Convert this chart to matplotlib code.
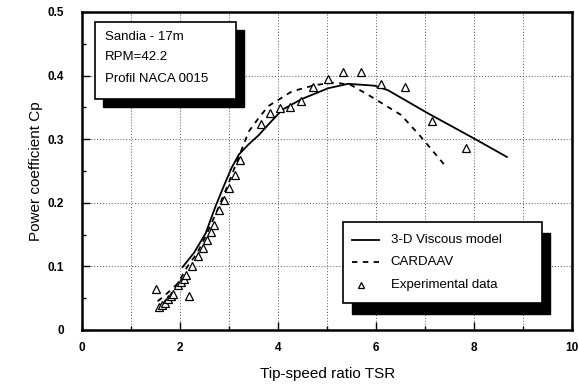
import matplotlib
matplotlib.use("Agg")
import matplotlib.pyplot as plt
from matplotlib.patches import Rectangle
from matplotlib.ticker import MultipleLocator

plt.rcParams['font.family'] = ['Liberation Sans', 'DejaVu Sans']

# 3-D Viscous model (solid)
viscous_tsr = [2.05, 2.28, 2.52, 2.72, 2.90, 3.05, 3.20, 3.40, 3.60, 3.80, 4.08, 4.48,
               5.02, 5.43, 5.97, 6.24, 7.05, 8.00, 8.67]
viscous_cp = [0.099, 0.121, 0.152, 0.194, 0.228, 0.255, 0.276, 0.292, 0.306, 0.323, 0.346,
              0.363, 0.380, 0.387, 0.384, 0.377, 0.341, 0.301, 0.272]

# CARDAAV (dashed)
cardaav_tsr = [1.54, 1.74, 1.95, 2.15, 2.35, 2.55, 2.79, 2.99, 3.20, 3.40, 3.60, 3.80,
               4.28, 4.75, 5.16, 5.49, 5.83, 6.51, 6.91, 7.39]
cardaav_cp = [0.045, 0.058, 0.073, 0.100, 0.121, 0.152, 0.194, 0.231, 0.273, 0.312, 0.333,
              0.352, 0.375, 0.385, 0.389, 0.385, 0.370, 0.338, 0.304, 0.260]

# Experimental data (triangles)
exp_tsr = [1.51, 1.57, 1.62, 1.68, 1.75, 1.81, 1.86, 1.95, 2.01, 2.08, 2.12, 2.17, 2.25,
           2.37, 2.46, 2.54, 2.63, 2.70, 2.79, 2.89, 2.99, 3.12, 3.23, 3.66, 3.84, 4.03,
           4.24, 4.47, 4.72, 5.01, 5.32, 5.70, 6.10, 6.59, 7.15, 7.84]
exp_cp = [0.064, 0.036, 0.040, 0.043, 0.048, 0.053, 0.057, 0.070, 0.076, 0.080, 0.086,
          0.053, 0.100, 0.117, 0.129, 0.141, 0.154, 0.165, 0.188, 0.204, 0.223, 0.244,
          0.267, 0.324, 0.341, 0.349, 0.351, 0.360, 0.382, 0.395, 0.406, 0.406, 0.387,
          0.382, 0.329, 0.286]

info_lines = ["Sandia - 17m", "RPM=42.2", "Profil NACA 0015"]
legend_labels = ["3-D Viscous model", "CARDAAV", "Experimental data"]

fig = plt.figure(figsize=(5.79, 3.85), dpi=100)
ax = fig.add_axes([0.142, 0.143, 0.846, 0.826])
ax.set_xlim(0, 10)
ax.set_ylim(0, 0.5)

ax.plot(viscous_tsr, viscous_cp, color='black', lw=1.3, zorder=3)
ax.plot(cardaav_tsr, cardaav_cp, color='black', lw=1.3, ls=(0, (3, 3)), zorder=3)
ax.plot(exp_tsr, exp_cp, ls='none', marker='^', markersize=6, mfc='white', mec='black',
        mew=0.9, zorder=4)

ax.xaxis.set_major_locator(MultipleLocator(2))
ax.xaxis.set_minor_locator(MultipleLocator(1))
ax.yaxis.set_major_locator(MultipleLocator(0.1))
ax.yaxis.set_minor_locator(MultipleLocator(0.05))
ax.set_yticks([0, 0.1, 0.2, 0.3, 0.4, 0.5])
ax.set_yticklabels(['0', '0.1', '0.2', '0.3', '0.4', '0.5'])
ax.set_xticks([0, 2, 4, 6, 8, 10])
ax.set_xticklabels(['0', '2', '4', '6', '8', '10'])
ax.tick_params(axis='both', which='both', direction='in', width=1)
ax.tick_params(axis='both', which='major', length=6, labelsize=8.5)
ax.tick_params(axis='y', which='major', pad=13)
ax.tick_params(axis='x', which='major', pad=9)
ax.tick_params(axis='both', which='minor', length=3)
for lab in ax.get_xticklabels() + ax.get_yticklabels():
    lab.set_fontweight('bold')

for x in range(1, 10):
    ax.axvline(x, color='#555555', lw=0.7, ls=(0, (1, 2)), zorder=1)
for y in [0.1, 0.2, 0.3, 0.4]:
    ax.axhline(y, color='#555555', lw=0.7, ls=(0, (1, 2)), zorder=1)

for s in ax.spines.values():
    s.set_linewidth(1.8)

ax.set_xlabel("Tip-speed ratio TSR", fontsize=11, labelpad=9)
ax.set_ylabel("Power coefficient Cp", fontsize=11, labelpad=3)

# Info box with shadow
bx0, by0, bx1, by1 = 0.26, 0.363, 3.14, 0.484
ax.add_patch(Rectangle((bx0 + 0.17, by0 - 0.013), bx1 - bx0, by1 - by0, facecolor='black',
                       edgecolor='black', zorder=5))
ax.add_patch(Rectangle((bx0, by0), bx1 - bx0, by1 - by0, facecolor='white', edgecolor='black',
                       lw=1.2, zorder=6))
for i, yv in enumerate([0.461, 0.429, 0.395]):
    ax.text(0.47, yv, info_lines[i], fontsize=9.5, va='center', ha='left', zorder=7)

# Legend box with shadow
lx0, ly0, lx1, ly1 = 5.33, 0.042, 9.38, 0.170
ax.add_patch(Rectangle((lx0 + 0.17, ly0 - 0.017), lx1 - lx0, ly1 - ly0, facecolor='black',
                       edgecolor='black', zorder=5))
ax.add_patch(Rectangle((lx0, ly0), lx1 - lx0, ly1 - ly0, facecolor='white', edgecolor='black',
                       lw=1.2, zorder=6))
rows = [0.142, 0.107, 0.071]
ax.plot([5.5, 6.05], [rows[0], rows[0]], color='black', lw=1.3, zorder=7)
ax.plot([5.5, 6.05], [rows[1], rows[1]], color='black', lw=1.3, ls=(0, (3, 3)), zorder=7)
ax.plot([5.7], [rows[2]], ls='none', marker='^', markersize=4.5, mfc='white', mec='black',
        mew=0.9, zorder=7)
for r, t in zip(rows, legend_labels):
    ax.text(6.3, r, t, fontsize=9.5, va='center', ha='left', zorder=7)

fig.savefig("out.png", dpi=100)
